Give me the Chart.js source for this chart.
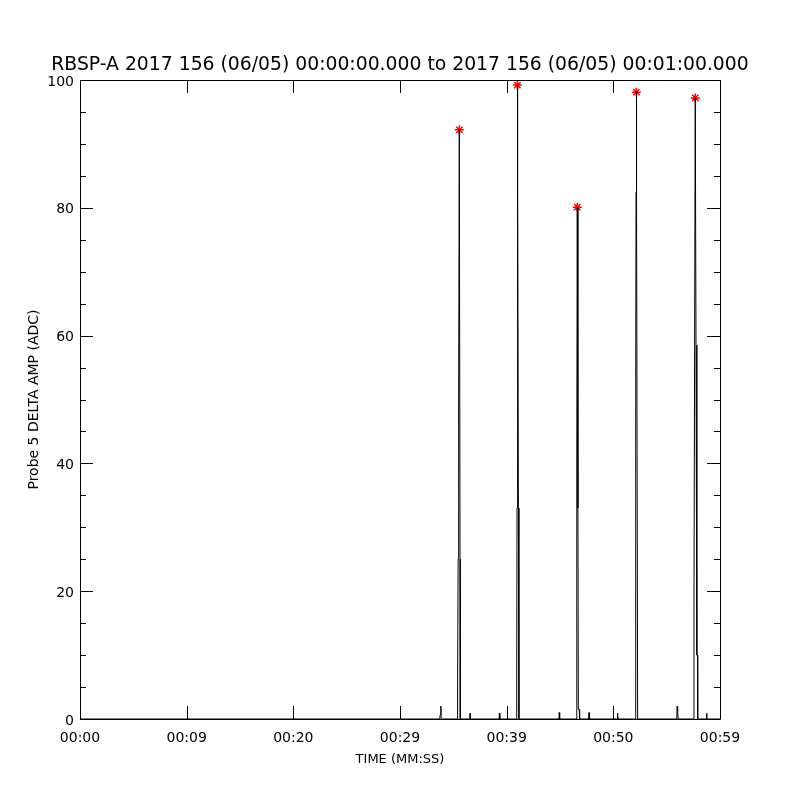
<!DOCTYPE html>
<html>
<head>
<meta charset="utf-8">
<script src="https://cdn.jsdelivr.net/npm/chart.js@4.4.1/dist/chart.umd.min.js"></script>
<style>
  html, body { margin: 0; padding: 0; background: #fff; }
  #wrap { width: 800px; height: 800px; }
</style>
</head>
<body>
<div id="wrap"><canvas id="chart-delta-amp" width="800" height="800"></canvas></div>
<script>
// seconds after 00:00:00 and probe 5 delta amplitude (ADC)
const timeSec = [
  0.00, 33.72, 33.77, 33.83, 33.87,
  35.37, 35.40, 35.45, 35.50, 35.56, 35.63, 35.65,
  36.53, 36.57, 36.61,
  39.28, 39.32, 39.36,
  40.92, 40.94, 40.97, 41.00, 41.05, 41.10, 41.15,
  44.90, 44.93, 44.97,
  46.53, 46.56, 46.59, 46.62, 46.68, 46.72, 46.81, 46.84,
  47.68, 47.72, 47.77,
  50.37, 50.40, 50.44,
  52.06, 52.10, 52.13, 52.15, 52.20, 52.28,
  55.95, 55.98, 56.03, 56.08,
  57.53, 57.56, 57.62, 57.68, 57.75, 57.83, 57.89, 57.91,
  58.71, 58.74, 58.78, 60.00,
];
const ampAdc = [
  0, 0, 0.7, 2.0, 0,
  0, 5, 25, 51, 92.2, 25, 0,
  0, 0.9, 0,
  0, 0.9, 0,
  0, 3, 33, 99.2, 82, 33, 0,
  0, 1.0, 0,
  0, 33, 41.5, 80.1, 33, 1.5, 1.5, 0,
  0, 1.0, 0,
  0, 0.9, 0,
  0, 51.5, 82.5, 98.1, 82.5, 0,
  0, 2.0, 1.2, 0,
  0, 17.4, 58.5, 97.2, 58.5, 10, 10, 0,
  0, 0.9, 0, 0,
];

// peak markers (red asterisks)
const peakSec = [35.56, 41.00, 46.62, 52.15, 57.68];
const peakAdc = [92.2, 99.2, 80.1, 98.1, 97.2];

const xTickValues = [0, 10, 20, 30, 40, 50, 60];
const xTickLabels = ['00:00', '00:09', '00:20', '00:29', '00:39', '00:50', '00:59'];
const yTickValues = [0, 20, 40, 60, 80, 100];
const yMinorStep = 5;

const FONT = 'DejaVu Sans';

// IDL style frame: closed box with inward ticks on all four sides
const idlFramePlugin = {
  id: 'idlFrame',
  afterDraw(chart) {
    const { ctx, chartArea: a, scales: { x, y } } = chart;
    const major = 13, minor = 6;
    const px = v => Math.round(v) + 0.5;
    ctx.save();
    ctx.strokeStyle = '#000';
    ctx.lineWidth = 1;
    ctx.beginPath();
    ctx.rect(px(a.left), px(a.top), Math.round(a.right) - Math.round(a.left), Math.round(a.bottom) - Math.round(a.top));
    xTickValues.forEach(v => {
      const xp = px(x.getPixelForValue(v));
      ctx.moveTo(xp, a.bottom); ctx.lineTo(xp, a.bottom - major);
      ctx.moveTo(xp, a.top); ctx.lineTo(xp, a.top + major);
    });
    for (let v = y.min; v <= y.max; v += yMinorStep) {
      const yp = px(y.getPixelForValue(v));
      const len = yTickValues.includes(v) ? major : minor;
      ctx.moveTo(a.left, yp); ctx.lineTo(a.left + len, yp);
      ctx.moveTo(a.right, yp); ctx.lineTo(a.right - len, yp);
    }
    ctx.stroke();
    ctx.restore();
  },
};

new Chart(document.getElementById('chart-delta-amp'), {
  type: 'line',
  plugins: [idlFramePlugin],
  data: {
    datasets: [
      {
        data: timeSec.map((t, i) => ({ x: t, y: ampAdc[i] })),
        borderColor: '#000',
        borderWidth: 1,
        pointRadius: 0,
        tension: 0,
        fill: false,
      },
      {
        type: 'scatter',
        data: peakSec.map((t, i) => ({ x: t, y: peakAdc[i] })),
        pointStyle: 'star',
        pointRadius: 4.5,
        borderColor: '#ff0000',
        backgroundColor: '#ff0000',
        borderWidth: 1.5,
      },
    ],
  },
  options: {
    responsive: false,
    animation: false,
    devicePixelRatio: 1,
    layout: { padding: 0 },
    plugins: {
      legend: { display: false },
      tooltip: { enabled: false },
      title: {
        display: true,
        text: 'RBSP-A 2017 156 (06/05) 00:00:00.000 to 2017 156 (06/05) 00:01:00.000',
        color: '#000',
        font: { family: FONT, size: 18.8, weight: 'normal', lineHeight: 1 },
        padding: { top: 56, bottom: 5.2 },
      },
    },
    scales: {
      x: {
        type: 'linear',
        min: 0,
        max: 60,
        afterBuildTicks: s => { s.ticks = xTickValues.map(v => ({ value: v })); },
        // keep 80px free on the right, like the IDL plot window
        afterFit: s => { s.height = 81; s.paddingLeft = 0; s.paddingRight = 80; },
        grid: { display: false, drawTicks: false },
        border: { display: false },
        ticks: {
          color: '#000',
          padding: 11,
          maxRotation: 0,
          autoSkip: false,
          font: { family: FONT, size: 14 },
          callback: (v, i) => xTickLabels[i],
        },
        title: {
          display: true,
          text: 'TIME (MM:SS)',
          color: '#000',
          font: { family: FONT, size: 13 },
          padding: { top: 0, bottom: 33 },
        },
      },
      y: {
        min: 0,
        max: 100,
        afterBuildTicks: s => { s.ticks = yTickValues.map(v => ({ value: v })); },
        afterFit: s => { s.width = 80; },
        grid: { display: false, drawTicks: false },
        border: { display: false },
        ticks: {
          color: '#000',
          padding: 6,
          labelOffset: 2,
          font: { family: FONT, size: 14 },
        },
        title: {
          display: true,
          text: 'Probe 5 DELTA AMP (ADC)',
          color: '#000',
          font: { family: FONT, size: 14 },
          padding: { top: 26, bottom: 0 },
        },
      },
    },
  },
});
</script>
</body>
</html>
